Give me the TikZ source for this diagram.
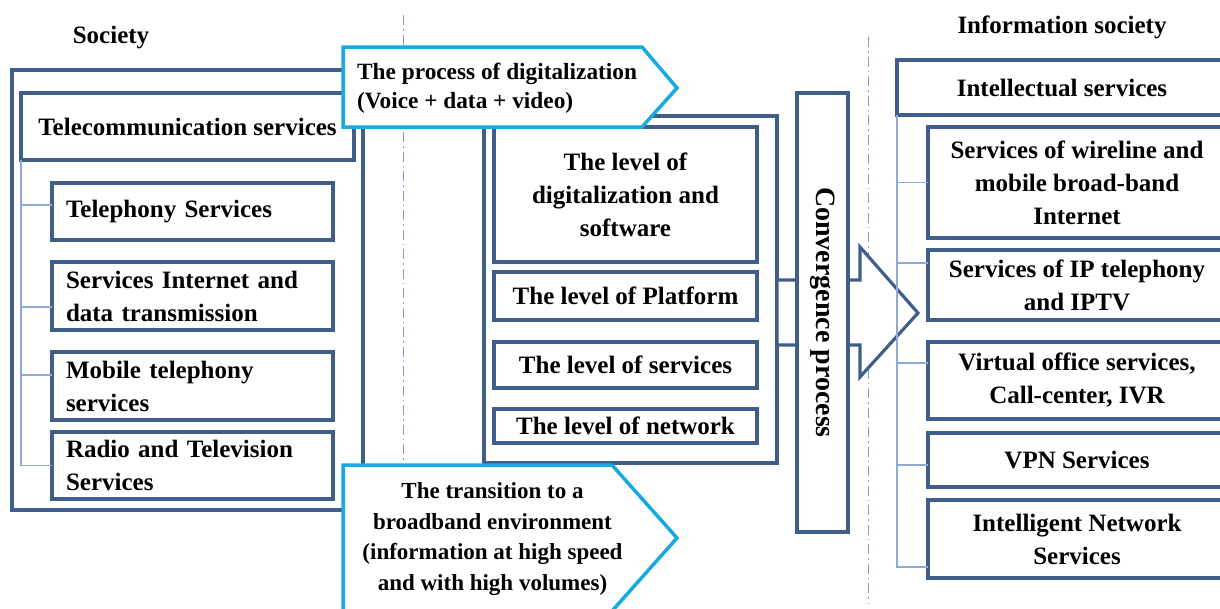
\documentclass[tikz,border=0pt]{standalone}
\usepackage{fontspec}
\setmainfont{Liberation Serif}
\definecolor{boxc}{HTML}{3F5F8A}
\definecolor{treec}{HTML}{8EAAD6}
\definecolor{dashc}{HTML}{7F9BCB}
\definecolor{cyanc}{HTML}{17A9E1}
\newcommand\boxfont{\fontsize{25}{33}\selectfont\bfseries}
\newcommand\pentfont{\fontsize{23.3}{29}\selectfont\bfseries}
\newcommand\pentfontb{\fontsize{23}{30.5}\selectfont\bfseries}
\begin{document}
\begin{tikzpicture}[x=1pt,y=-1pt,
  box/.style={draw=boxc, line width=3.2pt, fill=white, inner sep=0pt, outer sep=0pt, align=center, font=\boxfont},
  lbox/.style={box, text width=253pt, inner xsep=14pt, align=left},
  tree/.style={draw=treec, line width=1.2pt},
  dashdot/.style={draw=dashc, line width=1pt, dash pattern=on 10pt off 4pt on 1.5pt off 4pt},
  pent/.style={draw=cyanc, line width=3.5pt, fill=white, line join=miter},
  bigarrow/.style={draw=boxc, line width=3.2pt, fill=white, line join=miter},
  head/.style={font=\boxfont, inner sep=0pt}]
\useasboundingbox (0,0) rectangle (1220,608);
% dash-dot separators
\coordinate (d1a) at (403,15);
\coordinate (d1b) at (403,465);
\coordinate (d2a) at (868,37);
\coordinate (d2b) at (868,603);
\draw[dashdot] (d1a) -- (d1b);
\draw[dashdot] (d2a) -- (d2b);
% headings
\node[head] (hsoc) at (111,38) {Society};
\node[head] (hinf) at (1062,27) {Information society};
% society block
\node[box, minimum width=351pt, minimum height=440pt] (soc) at (187.5,290) {};
\node[box, minimum width=333pt, minimum height=67pt] (tele) at (187.5,126.5) {Telecommunication services};
\node[lbox, minimum height=57pt] (tel) at (192.5,211.5) {Telephony Services};
\node[lbox, minimum height=68pt] (inet) at (192.5,296) {Services Internet and\\data transmission};
\node[lbox, minimum height=68pt] (mob) at (192.5,386) {Mobile telephony\\services};
\node[lbox, minimum height=67pt] (radio) at (192.5,465.5) {Radio and Television\\Services};
\draw[tree] (tele.south west) |- ([yshift=6.5pt]tel.west);
\draw[tree] (tele.south west) |- ([yshift=-11pt]inet.west);
\draw[tree] (tele.south west) |- ([yshift=11pt]mob.west);
\draw[tree] (tele.south west) |- (radio.west);
% levels block
\node[box, minimum width=293pt, minimum height=347pt] (mid) at (630.5,289.5) {};
\node[box, minimum width=263pt, minimum height=135pt] (lv1) at (625.5,194.5) {The level of\\digitalization and\\software};
\node[box, minimum width=263pt, minimum height=48pt] (lv2) at (625.5,296) {The level of Platform};
\node[box, minimum width=263pt, minimum height=46pt] (lv3) at (625.5,365) {The level of services};
\node[box, minimum width=263pt, minimum height=34pt] (lv4) at (625.5,426) {The level of network};
% big arrow
\draw[bigarrow] (mid.east |- 0,280) -- (860,280) -- (860,247) -- (918,313) -- (860,377) -- (860,345) -- (mid.east |- 0,345) -- cycle;
% convergence
\node[box, minimum width=51pt, minimum height=439pt] (conv) at (822.5,312.5) {};
\node[font=\fontsize{28}{30}\selectfont\bfseries, rotate=-90, inner sep=0pt] (convt) at (conv.center) {Convergence process};
% information society block
\node[box, minimum width=330pt, minimum height=55pt] (intel) at (1062,87.5) {Intellectual services};
\node[box, minimum width=298pt, minimum height=111pt] (w1) at (1077,182.5) {Services of wireline and\\mobile broad-band\\Internet};
\node[box, minimum width=298pt, minimum height=70pt] (w2) at (1077,285) {Services of IP telephony\\and IPTV};
\node[box, minimum width=298pt, minimum height=77pt] (w3) at (1077,380.5) {Virtual office services,\\Call-center, IVR};
\node[box, minimum width=298pt, minimum height=54pt] (w4) at (1077,460) {VPN Services};
\node[box, minimum width=298pt, minimum height=78pt] (w5) at (1077,539) {Intelligent Network\\Services};
\draw[tree] (intel.south west) |- (w1.west);
\draw[tree] (intel.south west) |- ([yshift=22pt]w2.west);
\draw[tree] (intel.south west) |- ([yshift=17.5pt]w3.west);
\draw[tree] (intel.south west) |- ([yshift=-5pt]w4.west);
\draw[tree] (intel.south west) |- ([yshift=-28pt]w5.west);
% pentagons
\draw[pent] (343,47) -- (642,47) -- (677,88) -- (642,127) -- (343,127) -- cycle;
\node[font=\pentfont, align=left, anchor=west, inner sep=0pt] (p1) at (357,88.5) {The process of digitalization\\(Voice + data + video)};
\draw[pent] (343,465) -- (612,465) -- (677,538) -- (612,611) -- (343,611) -- cycle;
\node[font=\pentfontb, align=center, inner sep=0pt] (p2) at (492.5,539) {The transition to a\\broadband environment\\(information at high speed\\and with high volumes)};
\end{tikzpicture}
\end{document}
